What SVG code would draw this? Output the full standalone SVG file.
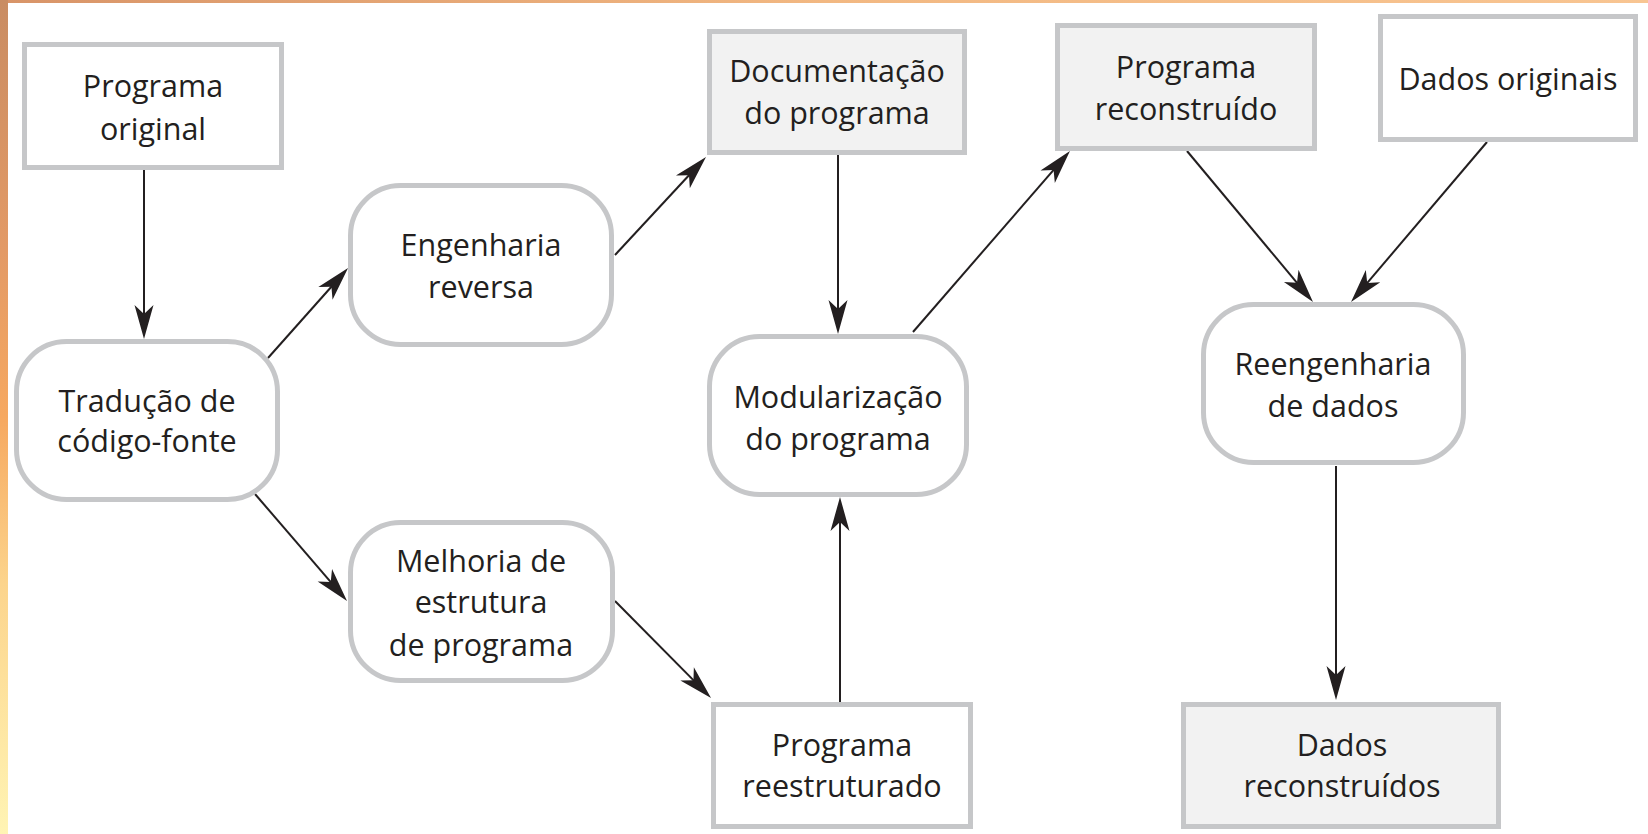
<svg xmlns="http://www.w3.org/2000/svg" width="1648" height="834" viewBox="0 0 1648 834">
<defs>
<linearGradient id="leftStrip" x1="0" y1="0" x2="0" y2="1">
<stop offset="0" stop-color="#c98c62"/>
<stop offset="0.3" stop-color="#e39a66"/>
<stop offset="0.5" stop-color="#f6a860"/>
<stop offset="0.7" stop-color="#fcd48c"/>
<stop offset="1" stop-color="#fff4b4"/>
</linearGradient>
<linearGradient id="topStrip" x1="0" y1="0" x2="1" y2="0">
<stop offset="0" stop-color="#d89468"/>
<stop offset="0.5" stop-color="#f2b882"/>
<stop offset="1" stop-color="#f8c592"/>
</linearGradient>
<marker id="arrow" viewBox="-26 -11 38 22" markerWidth="38" markerHeight="22" refX="0" refY="0" orient="auto" markerUnits="userSpaceOnUse">
<path d="M10,0 L-24,-9.5 L-15,0 L-24,9.5 Z" fill="#231f20"/>
</marker>
<style>
.box{fill:#ffffff;stroke:#c6c7c9;stroke-width:5}
.shaded{fill:#f2f2f2}
.lbl{font-family:"Open Sans","Noto Sans","Liberation Sans",sans-serif;font-size:30.5px;fill:#231f20;text-anchor:middle}
.conn{stroke:#231f20;stroke-width:2;fill:none;marker-end:url(#arrow)}
</style>
</defs>
<rect x="0" y="0" width="1648" height="834" fill="#ffffff"/>
<rect x="0" y="0" width="1648" height="3" fill="url(#topStrip)"/>
<rect x="0" y="0" width="8" height="834" fill="url(#leftStrip)"/>

<g id="connectors">
<line class="conn" x1="144" y1="170" x2="144" y2="329"/>
<line class="conn" x1="268" y1="358" x2="341.4" y2="275.5"/>
<line class="conn" x1="255" y1="494" x2="340.5" y2="593.4"/>
<line class="conn" x1="615" y1="601" x2="704" y2="690.9"/>
<line class="conn" x1="840" y1="702" x2="840" y2="507"/>
<line class="conn" x1="615" y1="255" x2="699.2" y2="164.3"/>
<line class="conn" x1="838" y1="155" x2="838" y2="324"/>
<line class="conn" x1="913" y1="332" x2="1063.4" y2="158.6"/>
<line class="conn" x1="1187" y1="151" x2="1306.6" y2="294.3"/>
<line class="conn" x1="1487" y1="142" x2="1357.5" y2="294.4"/>
<line class="conn" x1="1336" y1="466" x2="1336" y2="690"/>
</g>

<g id="programa-original">
<rect class="box" x="24.5" y="44.5" width="257" height="123"/>
<text class="lbl" x="153" y="97">Programa</text>
<text class="lbl" x="153" y="140">original</text>
</g>

<g id="traducao">
<rect class="box" x="16.5" y="341.5" width="261" height="158" rx="50" ry="50"/>
<text class="lbl" x="147" y="412">Tradução de</text>
<text class="lbl" x="147" y="452">código-fonte</text>
</g>

<g id="engenharia-reversa">
<rect class="box" x="350.5" y="185.5" width="261" height="159" rx="50" ry="50"/>
<text class="lbl" x="481" y="256">Engenharia</text>
<text class="lbl" x="481" y="298">reversa</text>
</g>

<g id="melhoria">
<rect class="box" x="350.5" y="522.5" width="262" height="158" rx="50" ry="50"/>
<text class="lbl" x="481" y="572">Melhoria de</text>
<text class="lbl" x="481" y="613">estrutura</text>
<text class="lbl" x="481" y="656">de programa</text>
</g>

<g id="documentacao">
<rect class="box shaded" x="709.5" y="31.5" width="255" height="121"/>
<text class="lbl" x="837" y="82">Documentação</text>
<text class="lbl" x="837" y="124">do programa</text>
</g>

<g id="modularizacao">
<rect class="box" x="709.5" y="336.5" width="257" height="158" rx="50" ry="50"/>
<text class="lbl" x="838" y="408">Modularização</text>
<text class="lbl" x="838" y="450">do programa</text>
</g>

<g id="programa-reestruturado">
<rect class="box" x="713.5" y="704.5" width="257" height="122"/>
<text class="lbl" x="842" y="756">Programa</text>
<text class="lbl" x="842" y="797">reestruturado</text>
</g>

<g id="programa-reconstruido">
<rect class="box shaded" x="1057.5" y="25.5" width="257" height="123"/>
<text class="lbl" x="1186" y="78">Programa</text>
<text class="lbl" x="1186" y="120">reconstruído</text>
</g>

<g id="dados-originais">
<rect class="box" x="1380.5" y="16.5" width="255" height="123"/>
<text class="lbl" x="1508" y="90">Dados originais</text>
</g>

<g id="reengenharia-dados">
<rect class="box" x="1203.5" y="304.5" width="260" height="158" rx="50" ry="50"/>
<text class="lbl" x="1333" y="375">Reengenharia</text>
<text class="lbl" x="1333" y="417">de dados</text>
</g>

<g id="dados-reconstruidos">
<rect class="box shaded" x="1183.5" y="704.5" width="315" height="122"/>
<text class="lbl" x="1342" y="756">Dados</text>
<text class="lbl" x="1342" y="797">reconstruídos</text>
</g>
</svg>
